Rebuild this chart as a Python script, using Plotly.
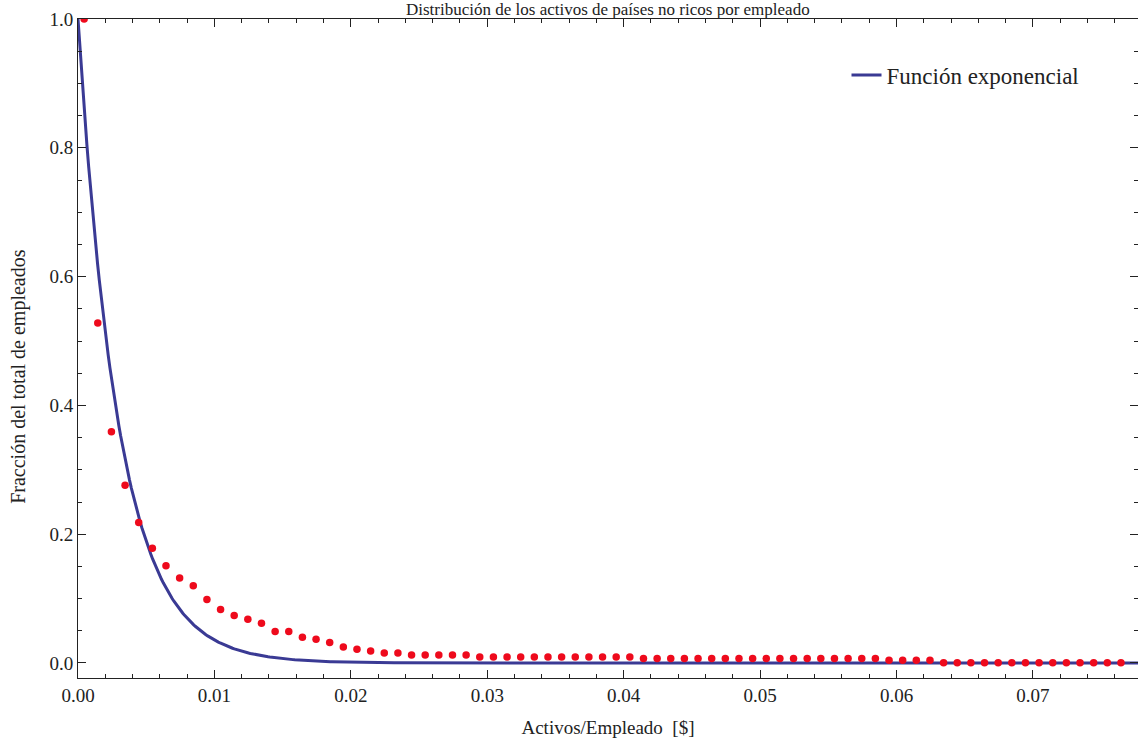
import numpy as np
import plotly.graph_objects as go

# Bin centres (Activos/Empleado) and fraction of employees
x_points = [0.00045, 0.00145, 0.00245, 0.00345, 0.00445, 0.00545, 0.00645, 0.00745, 0.00845, 0.00945,
            0.01045, 0.01145, 0.01245, 0.01345, 0.01445, 0.01545, 0.01645, 0.01745, 0.01845, 0.01945,
            0.02045, 0.02145, 0.02245, 0.02345, 0.02445, 0.02545, 0.02645, 0.02745, 0.02845, 0.02945,
            0.03045, 0.03145, 0.03245, 0.03345, 0.03445, 0.03545, 0.03645, 0.03745, 0.03845, 0.03945,
            0.04045, 0.04145, 0.04245, 0.04345, 0.04445, 0.04545, 0.04645, 0.04745, 0.04845, 0.04945,
            0.05045, 0.05145, 0.05245, 0.05345, 0.05445, 0.05545, 0.05645, 0.05745, 0.05845, 0.05945,
            0.06045, 0.06145, 0.06245, 0.06345, 0.06445, 0.06545, 0.06645, 0.06745, 0.06845, 0.06945,
            0.07045, 0.07145, 0.07245, 0.07345, 0.07445, 0.07545, 0.07645]
y_points = [1.0, 0.528, 0.359, 0.276, 0.218, 0.178, 0.151, 0.132, 0.120, 0.0986,
            0.083, 0.0737, 0.068, 0.0617, 0.049, 0.049, 0.040, 0.037, 0.0317, 0.025,
            0.0213, 0.0187, 0.0156, 0.0156, 0.0124, 0.0124, 0.0124, 0.0124, 0.0124, 0.0093,
            0.0093, 0.0093, 0.0093, 0.0093, 0.0093, 0.0093, 0.0093, 0.0093, 0.0093, 0.0093,
            0.0093, 0.0068, 0.0068, 0.0068, 0.0068, 0.0068, 0.0068, 0.0068, 0.0068, 0.0068,
            0.0068, 0.0068, 0.0068, 0.0068, 0.0068, 0.0068, 0.0068, 0.0068, 0.0068, 0.0042,
            0.0042, 0.0042, 0.0042, 0.0005, 0.0005, 0.0005, 0.0005, 0.0005, 0.0005, 0.0005,
            0.0005, 0.0005, 0.0005, 0.0005, 0.0005, 0.0005, 0.0005]

# Exponential function parameter (scale of the fitted curve)
exp_scale = 0.003
x_curve = np.linspace(0, 0.078, 600)
y_curve = np.exp(-x_curve / exp_scale)

title_text = "Distribución de los activos de países no ricos por empleado"
x_title = "Activos/Empleado  [$]"
y_title = "Fracción del total de empleados"
legend_name = "Función exponencial"

FONT = "Liberation Serif"

fig = go.Figure()
fig.add_trace(go.Scatter(x=x_curve, y=y_curve, mode="lines", name=legend_name,
                         line=dict(color="#3a3a94", width=3)))
fig.add_trace(go.Scatter(x=x_points, y=y_points, mode="markers", showlegend=False,
                         marker=dict(color="#ee0a1c", size=7.5)))

axis_common = dict(showline=True, linecolor="#222", linewidth=1, mirror="ticks",
                   ticks="inside", tickcolor="#222", ticklen=8, tickwidth=1,
                   showgrid=False, zeroline=False,
                   tickfont=dict(family=FONT, size=19, color="#222"))

fig.update_layout(
    width=1138, height=742,
    margin=dict(l=78, r=0, t=19, b=64),
    plot_bgcolor="white", paper_bgcolor="white",
    font=dict(family=FONT, color="#222"),
    xaxis=dict(range=[0, 0.0777], tick0=0, dtick=0.01, tickformat=".2f",
               minor=dict(ticks="inside", dtick=0.002, ticklen=4, tickcolor="#222"),
               title=dict(text=x_title, font=dict(family=FONT, size=19), standoff=15),
               **axis_common),
    yaxis=dict(range=[-0.0233, 1.0], tick0=0, dtick=0.2, tickformat=".1f",
               minor=dict(ticks="inside", dtick=0.05, ticklen=4, tickcolor="#222"),
               **axis_common),
    legend=dict(x=0.725, y=0.915, xanchor="left", yanchor="middle",
                bgcolor="rgba(0,0,0,0)", font=dict(family=FONT, size=23, color="#222")),
    showlegend=True,
)
fig.add_annotation(text=title_text, xref="paper", yref="paper", x=0.5, y=1,
                   yshift=10, yanchor="middle", showarrow=False,
                   font=dict(family=FONT, size=17, color="#222"))
fig.add_annotation(text=y_title, xref="paper", yref="paper", x=0, y=0.457,
                   xshift=-59, textangle=-90, showarrow=False,
                   xanchor="center", yanchor="middle",
                   font=dict(family=FONT, size=20, color="#222"))

fig.write_html("out.html")
